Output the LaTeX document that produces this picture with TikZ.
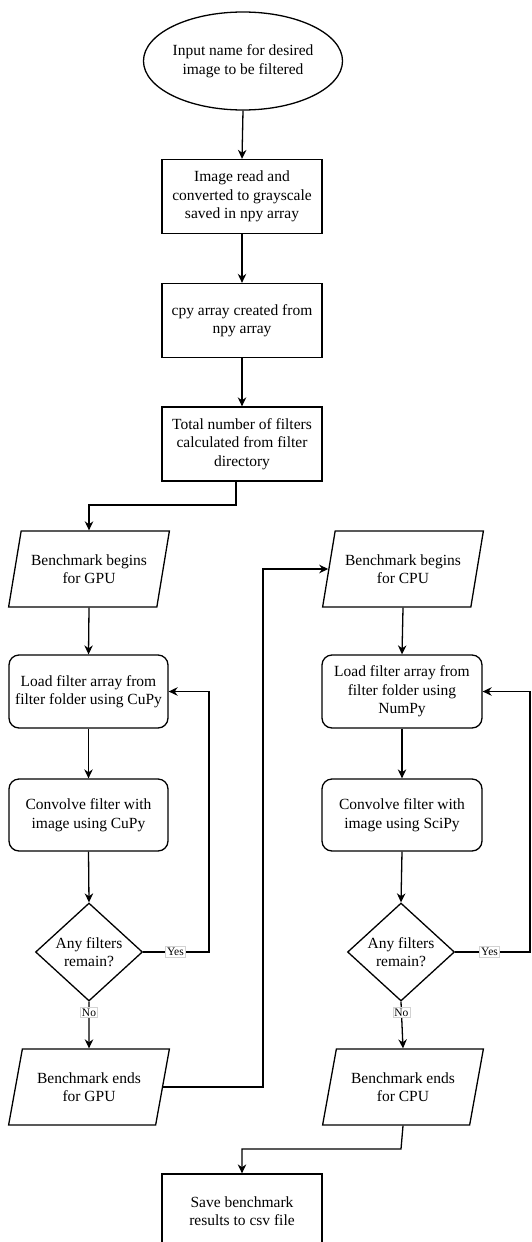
\documentclass[tikz,border=0pt]{standalone}
\usepackage{fontspec}
\setmainfont{Liberation Serif}
\usetikzlibrary{shapes.geometric,arrows.meta}
\begin{document}
\begin{tikzpicture}[x=1pt,y=-1pt,
  every node/.style={font=\fontsize{15.5}{18.5}\selectfont, align=center, line width=1.3pt},
  box/.style={draw, rectangle, minimum width=160pt, minimum height=74pt, inner sep=2pt},
  rbox/.style={box, rounded corners=10pt},
  para/.style={draw, trapezium, trapezium left angle=70, trapezium right angle=110, trapezium stretches=true, minimum width=161pt, minimum height=76pt, inner sep=0pt},
  dec/.style={draw, diamond, minimum width=107pt, minimum height=98pt, inner sep=0pt},
  term/.style={draw, ellipse, minimum width=160pt, minimum height=98pt, inner sep=0pt},
  lbl/.style={font=\fontsize{11.5}{13}\selectfont, fill=white, draw=gray!35, line width=0.5pt, inner sep=1.5pt},
  arr/.style={line width=1.3pt, -{Stealth[length=9pt,width=8.5pt]}}]
\clip (0,0) rectangle (531,1242);
\fill[white] (0,0) rectangle (531,1242);
\node[term] (e) at (243,61) {Input name for desired\\image to be filtered};
\node[box] (r1) at (242,196.5) {Image read and\\converted to grayscale\\saved in npy array};
\node[box] (r2) at (242,320.5) {cpy array created from\\npy array};
\node[box] (r3) at (242,444) {Total number of filters\\calculated from filter\\directory};
\node[para] (gb) at (89,569) {Benchmark begins\\for GPU};
\node[rbox, minimum width=159pt, minimum height=73pt] (lg) at (88.5,691.5) {Load filter array from\\filter folder using CuPy};
\node[rbox, minimum width=159pt, minimum height=72pt] (cg) at (88.5,815) {Convolve filter with\\image using CuPy};
\node[dec] (dg) at (89,952) {Any filters\\remain?};
\node[para] (ge) at (89,1087) {Benchmark ends\\for GPU};
\node[para] (cb) at (403,569) {Benchmark begins\\for CPU};
\node[rbox, minimum width=160pt, minimum height=73pt] (lc) at (402,691.5) {Load filter array from\\filter folder using\\NumPy};
\node[rbox, minimum width=160pt, minimum height=72pt] (cc) at (402,815) {Convolve filter with\\image using SciPy};
\node[dec] (dc) at (401,952) {Any filters\\remain?};
\node[para] (ce) at (403,1087) {Benchmark ends\\for CPU};
\node[box] (sv) at (242,1211) {Save benchmark\\results to csv file};
\coordinate (k1) at (236,505);
\coordinate (k2) at (209,952);
\coordinate (k3) at (263,569);
\coordinate (k4) at (530,952);
\coordinate (k5) at (401,1149);
\draw[arr] (e.south) -- (r1.north);
\draw[arr] (r1.south) -- (r2.north);
\draw[arr] (r2.south) -- (r3.north);
\draw[arr] (r3.south -| k1) -- (k1) -| (gb.north);
\draw[arr] (gb.south) -- (lg.north);
\draw[arr] (lg.south) -- (cg.north);
\draw[arr] (cg.south) -- (dg.north);
\draw[arr] (dg.east) -- node[lbl, pos=0.49] {Yes} (k2) |- (lg.east);
\draw[arr] (dg.south) -- node[lbl, pos=0.23] {No} (ge.north);
\draw[arr] (ge.right side) -| (k3) -- (cb.left side);
\draw[arr] (cb.south) -- (lc.north);
\draw[arr] (lc.south) -- (cc.north);
\draw[arr] (cc.south) -- (dc.north);
\draw[arr] (dc.east) -- node[lbl, pos=0.46] {Yes} (k4) |- (lc.east);
\draw[arr] (dc.south) -- node[lbl, pos=0.23] {No} (ce.north);
\draw[arr] (ce.south) -- (k5) -| (sv.north);
\end{tikzpicture}
\end{document}
